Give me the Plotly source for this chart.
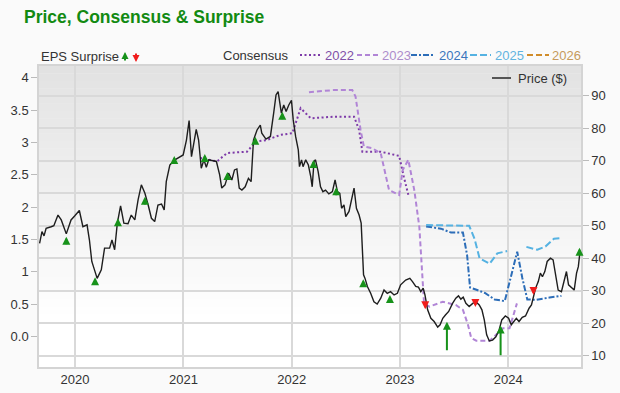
import plotly.graph_objects as go

# ---------------- data ----------------
price_dates = ["2019-09-04","2019-09-12","2019-09-19","2019-09-26","2019-10-13","2019-10-22","2019-11-05","2019-11-16","2019-12-03","2019-12-19",
"2019-12-31","2020-01-16","2020-01-28","2020-02-11","2020-02-19","2020-02-27","2020-03-07","2020-03-16","2020-03-30","2020-04-10",
"2020-04-27","2020-05-05","2020-05-14","2020-05-23","2020-06-03","2020-06-14","2020-06-28","2020-07-09","2020-07-21","2020-08-01",
"2020-08-12","2020-08-24","2020-09-04","2020-09-15","2020-09-26","2020-10-07","2020-10-19","2020-10-28","2020-11-04","2020-11-16",
"2020-12-03","2020-12-20","2020-12-31","2021-01-11","2021-01-20","2021-01-28","2021-02-06","2021-02-13","2021-02-21","2021-03-02",
"2021-03-11","2021-03-19","2021-03-27","2021-04-22","2021-05-03","2021-05-10","2021-05-21","2021-06-02","2021-06-13","2021-06-22",
"2021-06-30","2021-07-08","2021-07-17","2021-07-28","2021-08-08","2021-08-17","2021-08-25","2021-09-06","2021-09-17","2021-09-22",
"2021-10-06","2021-10-21","2021-11-01","2021-11-09","2021-11-16","2021-11-21","2021-11-27","2021-12-05","2021-12-13","2021-12-22",
"2021-12-31","2022-01-06","2022-01-14","2022-01-23","2022-01-27","2022-02-03","2022-02-08","2022-02-17","2022-02-26","2022-03-06",
"2022-03-11","2022-03-17","2022-03-22","2022-03-31","2022-04-08","2022-04-16","2022-04-25","2022-05-06","2022-05-18","2022-05-27",
"2022-06-04","2022-06-12","2022-06-18","2022-06-26","2022-07-02","2022-07-13","2022-07-22","2022-07-30","2022-08-07","2022-08-16",
"2022-08-23","2022-08-27","2022-08-31","2022-09-05","2022-09-13","2022-09-24","2022-10-05","2022-10-16","2022-10-28","2022-11-08",
"2022-11-19","2022-11-30","2022-12-12","2022-12-23","2023-01-03","2023-01-20","2023-02-03","2023-02-12","2023-02-23","2023-03-04",
"2023-03-12","2023-03-20","2023-03-26","2023-04-04","2023-04-15","2023-04-26","2023-05-08","2023-05-16","2023-05-25","2023-06-03",
"2023-06-14","2023-06-27","2023-07-08","2023-07-17","2023-07-25","2023-08-02","2023-08-11","2023-08-22","2023-09-03","2023-09-14",
"2023-09-25","2023-10-04","2023-10-12","2023-10-20","2023-10-29","2023-11-09","2023-11-20","2023-12-01","2023-12-10","2023-12-22",
"2024-01-02","2024-01-11","2024-01-19","2024-01-28","2024-02-06","2024-02-17","2024-02-28","2024-03-11","2024-03-19","2024-03-27",
"2024-04-02","2024-04-11","2024-04-18","2024-04-25","2024-05-03","2024-05-11","2024-05-22","2024-05-31","2024-06-09","2024-06-17",
"2024-06-28","2024-07-06","2024-07-15","2024-07-22","2024-08-01","2024-08-10","2024-08-18","2024-08-24","2024-08-29"]
price_values = [44.6,48.2,46.9,49.2,49.7,50,53.3,51.8,47.5,51.8,
53,54.7,49.7,50.3,45.6,39,36.4,33.8,36.4,43.1,
43.1,45.6,42.6,50.8,56.1,50.8,50.6,53.3,51.8,58,
62.6,60,56.4,52.3,51.3,56.4,56.7,54.9,63.6,68.7,
70.3,71.1,71.8,76.4,82.4,71.3,76.4,79.7,76.4,67.7,
70.3,68,70.3,69.8,65.7,61.6,62.6,66.2,64.1,67.2,
67.5,61.6,61,62,64.6,63.6,76.4,79.5,81,78.5,
76.7,77.5,84.7,90.3,91.3,88.8,84.7,87.2,85.2,87.2,
88.6,82.6,77.5,73.4,68.2,70.3,68.2,70.3,68.7,65.1,
62,69.8,70.3,66.7,62,60.5,61,59.8,60.5,64.1,
60.5,60,55.4,56.4,52.8,54.4,58.5,61.6,55.4,53.3,
50.8,42.6,34.9,33.8,31.3,29.2,26.6,25.9,27.7,30.2,
29.2,29.7,28.7,29.2,31.8,33.3,33.8,32.8,31.3,31.1,
29.7,30.8,28.7,24.1,21.5,20.5,18.8,19.5,21.5,22.5,
23.6,26.1,27.7,28.4,27.4,28,26.1,25.1,26.1,26.6,
25.6,24.1,21,16.4,14.5,14.8,15.8,17.9,21,22.2,
21.5,19.5,20.5,21.5,20.5,21.8,22.2,24.6,25.6,28.2,
30.8,32.8,35.4,34.3,35.9,39,40,39.5,34.3,30.2,
29.7,32.3,35.9,31.8,30.8,30.2,35.4,37.4,41.5]

cons2022_dates = ["2021-02-26","2021-04-24","2021-05-28","2021-08-03","2021-09-03","2021-10-09","2021-11-24","2022-01-03","2022-01-31",
"2022-03-06","2022-05-23","2022-07-30","2022-08-16","2022-08-27","2022-10-28","2022-12-29","2023-01-14","2023-01-29"]
cons2022_values = [70.9,69.8,72.4,72.8,76,76.4,78,78.5,86.2,83.1,83.6,83.6,79.5,72.8,72.8,71.5,65,59.5]

cons2023_dates = ["2022-02-28","2022-05-23","2022-07-24","2022-08-04","2022-08-21","2022-09-01","2022-09-29","2022-10-28","2022-11-25",
"2022-12-29","2023-01-10","2023-01-29","2023-02-18","2023-03-07","2023-03-23","2023-04-10","2023-05-25","2023-07-08","2023-08-01",
"2023-08-18","2023-08-29","2023-09-15","2023-10-30","2023-11-21","2023-12-14","2024-01-05","2024-01-17","2024-01-30"]
cons2023_values = [91.1,91.8,91.8,89.8,79.5,74.4,73.9,72.3,61,59.5,67.2,70.3,61,49.7,26,25.1,26.6,25.6,24.1,19.5,15.4,14.6,14.6,
16.4,18.4,18.4,22,26.1]

cons2024_dates = ["2023-03-30","2023-05-19","2023-06-22","2023-08-01","2023-08-15","2023-08-25","2023-09-18","2023-10-14","2023-11-16",
"2023-12-20","2024-01-31","2024-02-17","2024-03-05","2024-04-05","2024-05-19","2024-06-28"]
cons2024_values = [49.8,49.1,47.9,47.9,41,31,30.2,29.3,27.3,26.8,42,34,27.3,27.2,27.9,28.4]

cons2025_dates = ["2023-03-30","2023-06-05","2023-08-22","2023-09-09","2023-09-26","2023-10-30","2023-11-25","2023-12-28",
"2024-01-15","2024-03-02","2024-04-08","2024-05-05","2024-06-03","2024-06-28"]
cons2025_values = [50.2,50.2,50,46,40,38.3,41.5,42.2,None,43.5,42.6,43.6,46,46.2]

cons2026_dates = []
cons2026_values = []

surprise_dates = ["2019-12-03","2020-03-09","2020-05-25","2020-08-24","2020-12-01","2021-03-14","2021-05-29","2021-08-31",
"2021-11-30","2022-03-15","2022-05-31","2022-08-30","2022-11-28","2023-03-27","2023-06-08","2023-09-12","2023-12-06",
"2024-03-26","2024-08-28"]
surprise_from = [1.405,0.814,1.699,2.019,2.652,2.678,2.405,2.961,3.336,2.585,2.162,0.747,0.505,0.52,-0.232,0.601,-0.309,0.768,1.254]
surprise_to = [1.544,0.917,1.829,2.162,2.791,2.822,2.544,3.089,3.475,2.729,2.307,0.886,0.644,0.423,0.232,0.459,0.173,0.644,1.373]

eps_tickvals = [0, 0.5, 1, 1.5, 2, 2.5, 3, 3.5, 4]
eps_ticktext = ["0.0", "0.5", "1", "1.5", "2", "2.5", "3", "3.5", "4"]
price_tickvals = [10, 20, 30, 40, 50, 60, 70, 80, 90]
year_ticks = ["2020-01-01", "2021-01-01", "2022-01-01", "2023-01-01", "2024-01-01"]
year_labels = ["2020", "2021", "2022", "2023", "2024"]

cons_years = ["2022", "2023", "2024", "2025", "2026"]
cons_line_colors = ["#7d3aa8", "#b185d6", "#2c6db8", "#55b2e2", "#d08c2a"]
cons_text_colors = ["#8150a8", "#ad8ccb", "#3b76bd", "#62b4e0", "#c69a5c"]
cons_dashes = ["2px,2.5px", "5px,3px", "6px,2px,2px,2px", "7px,3px", "6px,3px"]

# ---------------- figure ----------------
FONT = "Liberation Sans, Arial, sans-serif"
W, H = 620, 393
L, R, T, B = 39, 581, 66, 367

def px(x):
    return (x - L) / (R - L)

def py(y):
    return (B - y) / (B - T)

fig = go.Figure()

cons_data = [(cons2022_dates, cons2022_values), (cons2023_dates, cons2023_values),
             (cons2024_dates, cons2024_values), (cons2025_dates, cons2025_values),
             (cons2026_dates, cons2026_values)]
for (d, v), col, dash, yr in zip(cons_data, cons_line_colors, cons_dashes, cons_years):
    fig.add_trace(go.Scatter(x=d, y=v, yaxis="y2", mode="lines", name=yr,
                             line=dict(color=col, width=2, dash=dash), connectgaps=False,
                             showlegend=False, hoverinfo="skip"))

fig.add_trace(go.Scatter(x=price_dates, y=price_values, yaxis="y2", mode="lines", name="Price ($)",
                         line=dict(color="#1e1e1e", width=1.4), showlegend=False))

# invisible trace to activate left axis
fig.add_trace(go.Scatter(x=[price_dates[0]], y=[None], yaxis="y", mode="lines", showlegend=False))

annotations = []
for d, f, t in zip(surprise_dates, surprise_from, surprise_to):
    col = "#17921a" if t > f else "#f01c1c"
    annotations.append(dict(x=d, y=t, ax=d, ay=f, xref="x", yref="y", axref="x", ayref="y",
                            showarrow=True, arrowhead=2, arrowsize=0.8, arrowwidth=2,
                            arrowcolor=col, text=""))

# title
annotations.append(dict(x=px(22), y=py(17), xref="paper", yref="paper", xanchor="left", yanchor="middle",
                        text="<b>Price, Consensus &amp; Surprise</b>", showarrow=False,
                        font=dict(family=FONT, size=17.5, color="#128a12")))
# EPS surprise header
annotations.append(dict(x=px(39), y=py(57), xref="paper", yref="paper", xanchor="left", yanchor="middle",
                        text="EPS Surprise", showarrow=False, font=dict(family=FONT, size=13, color="#333333")))
annotations.append(dict(x=px(125), y=py(52), xref="paper", yref="paper", ax=0, ay=10, showarrow=True,
                        arrowhead=2, arrowsize=0.7, arrowwidth=2, arrowcolor="#17921a", text=""))
annotations.append(dict(x=px(136), y=py(62), xref="paper", yref="paper", ax=0, ay=-10, showarrow=True,
                        arrowhead=2, arrowsize=0.7, arrowwidth=2, arrowcolor="#f01c1c", text=""))
# Consensus header
annotations.append(dict(x=px(221), y=py(55), xref="paper", yref="paper", xanchor="left", yanchor="middle",
                        text="Consensus", showarrow=False, font=dict(family=FONT, size=13, color="#333333")))
shapes = []
sample_x = [(300, 322), (357, 378), (411, 435), (470, 491), (527, 549)]
text_x = [323, 380, 437, 493, 550]
for (x0, x1), tx, yr, lc, tc, dash in zip(sample_x, text_x, cons_years, cons_line_colors, cons_text_colors, cons_dashes):
    shapes.append(dict(type="line", xref="paper", yref="paper", x0=px(x0), x1=px(x1), y0=py(55), y1=py(55),
                       line=dict(color=lc, width=2, dash=dash)))
    annotations.append(dict(x=px(tx), y=py(55), xref="paper", yref="paper", xanchor="left", yanchor="middle",
                            text=yr, showarrow=False, font=dict(family=FONT, size=13, color=tc)))
# price legend
shapes.append(dict(type="line", xref="paper", yref="paper", x0=px(492), x1=px(511), y0=py(78), y1=py(78),
                   line=dict(color="#555555", width=2)))
annotations.append(dict(x=px(516), y=py(78), xref="paper", yref="paper", xanchor="left", yanchor="middle",
                        text="Price ($)", showarrow=False, font=dict(family=FONT, size=13, color="#333333")))

# background gradient of plot area
N = 40
for i in range(N):
    t0 = i / N
    t1 = (i + 1) / N
    tm = (t0 + t1) / 2
    v = int(round(226 + 29 * min(1.0, tm / 0.85)))
    shapes.append(dict(type="rect", xref="paper", yref="paper", x0=0, x1=1,
                       y0=1 - t1, y1=1 - t0 + 0.001, fillcolor=f"rgb({v},{v},{v})",
                       line=dict(width=0), layer="below"))

fig.update_layout(
    width=W, height=H,
    margin=dict(l=L, r=W - R, t=T, b=H - B, autoexpand=False),
    paper_bgcolor="#fafafa",
    plot_bgcolor="rgba(0,0,0,0)",
    font=dict(family=FONT, size=13, color="#333333"),
    showlegend=False,
    annotations=annotations,
    shapes=shapes,
    xaxis=dict(type="date", range=["2019-09-02", "2024-09-02"], tickvals=year_ticks, ticktext=year_labels,
               showgrid=True, gridcolor="#d9d9d9", gridwidth=1.5, showline=True, linecolor="#d4d4d4",
               linewidth=1.5, mirror=True, ticks="", zeroline=False,
               tickfont=dict(family=FONT, size=13, color="#333333")),
    yaxis=dict(range=[-0.468, 4.18], tickvals=eps_tickvals, ticktext=eps_ticktext, showgrid=False,
               zeroline=False, ticks="outside", ticklen=6, tickcolor="#bbbbbb", showline=True,
               linecolor="#d4d4d4", linewidth=1.5, tickfont=dict(family=FONT, size=13, color="#333333")),
    yaxis2=dict(range=[6.5, 99.2], tickvals=price_tickvals, overlaying="y", side="right",
                showgrid=True, gridcolor="#d9d9d9", gridwidth=1.5, zeroline=False, ticks="outside",
                ticklen=6, tickcolor="#bbbbbb", showline=True, linecolor="#d4d4d4", linewidth=1.5,
                tickfont=dict(family=FONT, size=13, color="#333333")),
)

fig.write_html("out.html", config={"displayModeBar": False},
               post_script="document.body.style.margin='0';document.body.style.overflow='hidden';")
